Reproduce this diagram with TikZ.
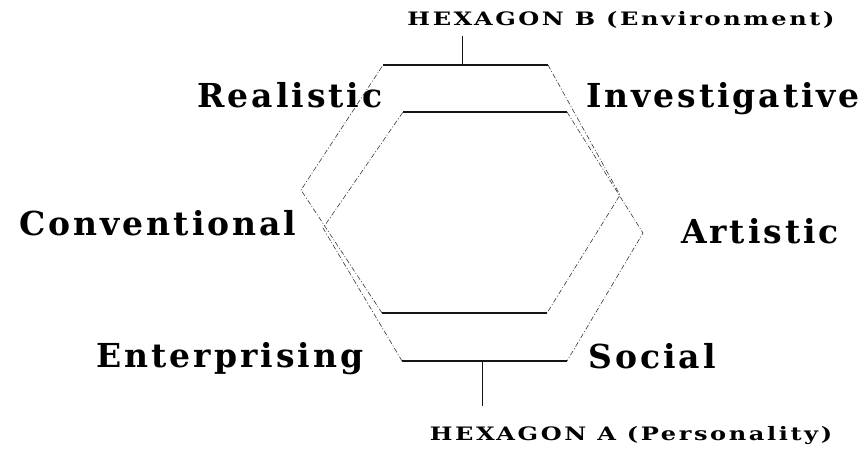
\documentclass[tikz,border=0pt]{standalone}
\usepackage{fontspec}
\usepackage{tikz}
\usetikzlibrary{calc}
\newfontfamily\hexfont[LetterSpace=9]{DejaVu Serif}
\newfontfamily\capfont[LetterSpace=14,FakeStretch=1.3]{DejaVu Serif}
\definecolor{inkblack}{HTML}{141414}

\begin{document}
\begin{tikzpicture}[x=1pt,y=-1pt,
  trait/.style={font=\hexfont\bfseries\fontsize{33}{33}\selectfont,inner sep=0pt,anchor=base},
  caption/.style={font=\capfont\bfseries\fontsize{18.5}{18.5}\selectfont,inner sep=0pt,anchor=base},
  rim/.style={inkblack,line width=1.8pt},
  flank/.style={inkblack!85,line width=0.6pt,dash pattern=on 5pt off 2pt on 1pt off 2pt},
  stem/.style={inkblack,line width=1pt}]
  \useasboundingbox (0,0) rectangle (866,451);
  \foreach \n/\p in {b1/{383,65},b2/{548,65},b3/{620,195},b4/{547,313},b5/{382,313},b6/{301,190},
                     a1/{403,112},a2/{567,112},a3/{643,233},a4/{567,361},a5/{402,361},a6/{323,228}}
    \coordinate (\n) at (\p);
  \draw[rim] (b1) -- (b2);
  \draw[rim] (b4) -- (b5);
  \draw[flank] (b2) -- (b3) -- (b4);
  \draw[flank] (b5) -- (b6) -- (b1);
  \draw[rim] (a1) -- (a2);
  \draw[rim] (a4) -- (a5);
  \draw[flank] (a2) -- (a3) -- (a4);
  \draw[flank] (a5) -- (a6) -- (a1);
  \coordinate (btop) at ($(b1)!0.479!(b2)$);
  \coordinate (abot) at ($(a5)!0.49!(a4)$);
  \node[trait] (realistic) at (290,107) {Realistic};
  \node[trait] (investigative) at (723,107) {Investigative};
  \node[trait] (conventional) at (158,235) {Conventional};
  \node[trait] (artistic) at (760,243) {Artistic};
  \node[trait] (enterprising) at (230,367) {Enterprising};
  \node[trait] (social) at (652,368) {Social};
  \node[caption] (environment) at (621,25) {HEXAGON B (Environment)};
  \node[caption] (personality) at (631,440) {HEXAGON A (Personality)};
  \draw[stem] (btop) -- ([yshift=-8pt]environment.south -| btop);
  \draw[stem] (abot) -- ([yshift=20pt]personality.north -| abot);
\end{tikzpicture}
\end{document}
